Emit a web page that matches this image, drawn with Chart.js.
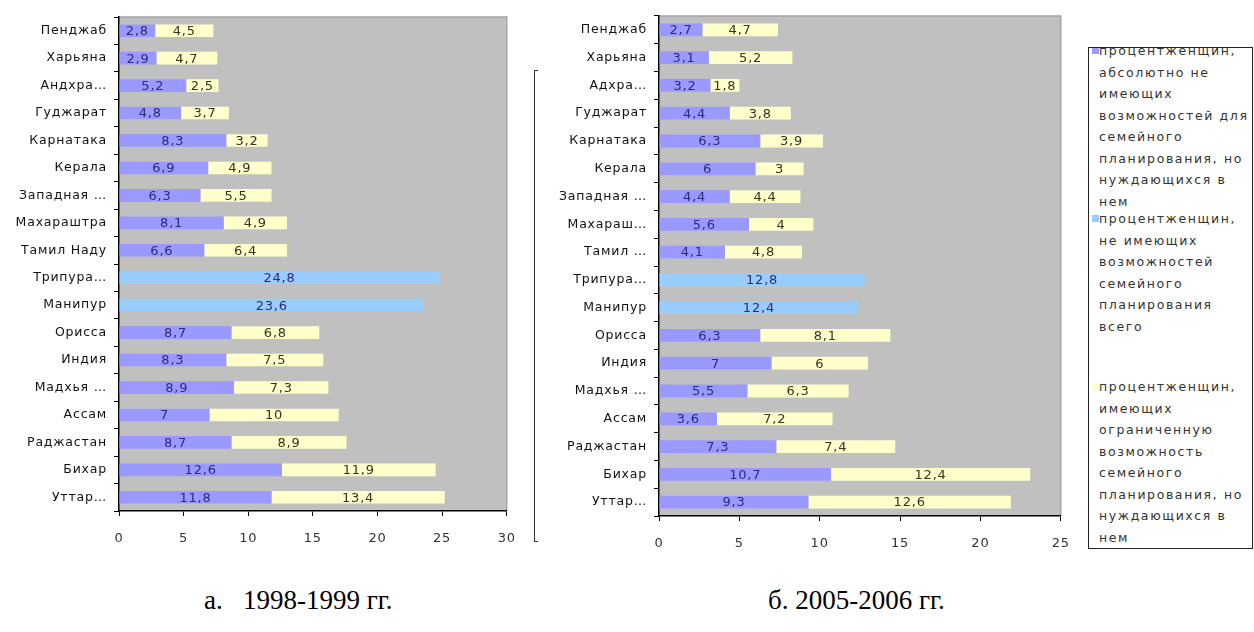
<!DOCTYPE html>
<html>
<head>
<meta charset="utf-8">
<script src="https://cdn.jsdelivr.net/npm/chart.js@4/dist/chart.umd.min.js"></script>
<style>
body { margin:0; background:#fff; width:1254px; height:632px; overflow:hidden; position:relative; font-family:"DejaVu Sans", sans-serif; }
.chartBox { position:absolute; top:0; height:560px; }
#box1 { left:0; width:530px; }
#box2 { left:540px; width:544px; }
#bracket { position:absolute; left:534px; top:70px; width:3px; height:470px; border-left:1.5px solid #333; border-top:1px solid #333; border-bottom:1px solid #333; }
#legend { position:absolute; left:1088px; top:47px; width:163px; height:500px; border:1px solid #222; overflow:hidden; }
.item { position:absolute; left:10px; font-size:12.5px; line-height:21.5px; color:#333; letter-spacing:1.6px; white-space:pre-line; }
.mark { position:absolute; left:-7px; top:7px; width:7px; height:7px; }
.caption { position:absolute; top:585px; font-family:"Liberation Serif", serif; font-size:27px; color:#000; white-space:pre; }
</style>
</head>
<body>
<div class="chartBox" id="box1"><canvas id="chart1"></canvas></div>
<div class="chartBox" id="box2"><canvas id="chart2"></canvas></div>
<div id="bracket"></div>
<div id="legend"></div>
<div class="caption" style="left:204px">а.   1998-1999 гг.</div>
<div class="caption" style="left:768px">б. 2005-2006 гг.</div>
<script>
// 1998-1999
var states1 = ['Пенджаб','Харьяна','Андхра…','Гуджарат','Карнатака','Керала','Западная …','Махараштра','Тамил Наду','Трипура…','Манипур','Орисса','Индия','Мадхья …','Ассам','Раджастан','Бихар','Уттар…'];
var noAccess1 = [2.8,2.9,5.2,4.8,8.3,6.9,6.3,8.1,6.6,null,null,8.7,8.3,8.9,7,8.7,12.6,11.8];
var noAccessTotal1 = [null,null,null,null,null,null,null,null,null,24.8,23.6,null,null,null,null,null,null,null];
var limited1 = [4.5,4.7,2.5,3.7,3.2,4.9,5.5,4.9,6.4,null,null,6.8,7.5,7.3,10,8.9,11.9,13.4];
var xMax1 = 30;

// 2005-2006
var states2 = ['Пенджаб','Харьяна','Адхра…','Гуджарат','Карнатака','Керала','Западная …','Махараш…','Тамил …','Трипура…','Манипур','Орисса','Индия','Мадхья …','Ассам','Раджастан','Бихар','Уттар…'];
var noAccess2 = [2.7,3.1,3.2,4.4,6.3,6,4.4,5.6,4.1,null,null,6.3,7,5.5,3.6,7.3,10.7,9.3];
var noAccessTotal2 = [null,null,null,null,null,null,null,null,null,12.8,12.4,null,null,null,null,null,null,null];
var limited2 = [4.7,5.2,1.8,3.8,3.9,3,4.4,4,4.8,null,null,8.1,6,6.3,7.2,7.4,12.4,12.6];
var xMax2 = 25;

var xStep = 5;

var seriesNames = [
  'процентженщин,\nабсолютно не\nимеющих\nвозможностей для\nсемейного\nпланирования, но\nнуждающихся в\nнем',
  'процентженщин,\nне имеющих\nвозможностей\nсемейного\nпланирования\nвсего',
  'процентженщин,\nимеющих\nограниченную\nвозможность\nсемейного\nпланирования, но\nнуждающихся в\nнем'
];
var seriesColors = ['#9999ff', '#99ccff', '#ffffcc'];
var labelColors = ['#2b2b7a', '#2b2b7a', '#333322'];

// legend
var legend = document.getElementById('legend');
var tops = [-8, 160, 328];
seriesNames.forEach(function (name, i) {
  var d = document.createElement('div');
  d.className = 'item';
  d.style.top = tops[i] + 'px';
  d.textContent = name;
  var m = document.createElement('div');
  m.className = 'mark';
  m.style.background = seriesColors[i];
  d.appendChild(m);
  legend.appendChild(d);
});

// серый фон и подписи значений
var barLabels = {
  id: 'barLabels',
  beforeDraw: function (chart) {
    var a = chart.chartArea, ctx = chart.ctx;
    ctx.save();
    ctx.fillStyle = '#c0c0c0';
    ctx.fillRect(a.left, a.top, a.right - a.left, a.bottom - a.top);
    ctx.strokeStyle = '#a4a4a4';
    ctx.lineWidth = 1.5;
    ctx.beginPath();
    ctx.moveTo(a.left, a.top);
    ctx.lineTo(a.right, a.top);
    ctx.lineTo(a.right, a.bottom);
    ctx.stroke();
    ctx.restore();
    ctx.letterSpacing = '0.8px';
  },
  afterDatasetsDraw: function (chart) {
    var ctx = chart.ctx;
    ctx.save();
    ctx.font = '13px "DejaVu Sans"';
    ctx.textAlign = 'center';
    ctx.textBaseline = 'middle';
    chart.data.datasets.forEach(function (ds, i) {
      chart.getDatasetMeta(i).data.forEach(function (bar, j) {
        var v = ds.data[j];
        if (v == null) return;
        ctx.fillStyle = labelColors[i];
        ctx.fillText(String(v).replace('.', ','), (bar.x + bar.base) / 2, bar.y + 1);
      });
    });
    ctx.restore();
  }
};

function drawChart(id, states, a, b, c, xMax, top, xHeight) {
  var ctx = document.getElementById(id).getContext('2d');
  var sets = [a, b, c].map(function (d, i) {
    return {
      label: seriesNames[i].replace(/\n/g, ' '),
      data: d,
      backgroundColor: seriesColors[i],
      borderWidth: 0,
      barPercentage: 0.46,
      categoryPercentage: 1
    };
  });
  return new Chart(ctx, {
    type: 'bar',
    data: { labels: states, datasets: sets },
    options: {
      indexAxis: 'y',
      responsive: true,
      maintainAspectRatio: false,
      animation: false,
      layout: { padding: { top: top, right: 0, left: 0, bottom: 0 } },
      plugins: { legend: { display: false }, tooltip: { enabled: false } },
      scales: {
        x: {
          stacked: true,
          min: 0,
          max: xMax,
          ticks: { stepSize: xStep, color: '#333', font: { family: 'DejaVu Sans', size: 13 }, padding: 15 },
          grid: { drawOnChartArea: false, color: '#000', tickLength: 5 },
          border: { color: '#000', width: 1.5 },
          afterFit: function (s) { s.height = xHeight; }
        },
        y: {
          stacked: true,
          ticks: { color: '#111', font: { family: 'DejaVu Sans', size: 12.5 }, padding: 7, autoSkip: false },
          grid: { drawOnChartArea: false, color: '#000', tickLength: 5, offset: true },
          border: { color: '#000', width: 1.5 },
          afterFit: function (s) { s.width = 119; }
        }
      }
    },
    plugins: [barLabels]
  });
}

drawChart('chart1', states1, noAccess1, noAccessTotal1, limited1, xMax1, 17, 49);
drawChart('chart2', states2, noAccess2, noAccessTotal2, limited2, xMax2, 16, 44);
</script>
</body>
</html>
